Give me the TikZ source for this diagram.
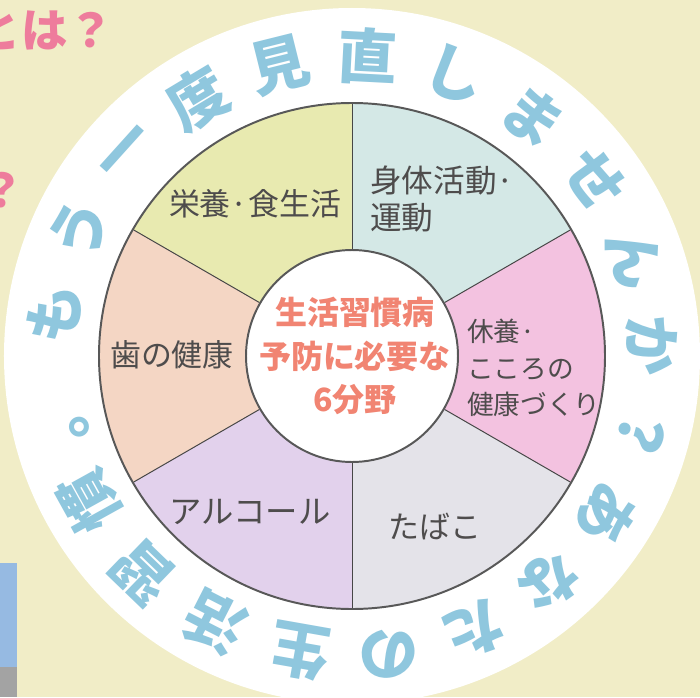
\documentclass[tikz,border=0pt]{standalone}
\usepackage{fontspec}
\setmainfont{Noto Sans CJK JP}
\usepackage{tikz}

\definecolor{paper}{RGB}{241,237,199}
\definecolor{secY}{RGB}{232,234,176}
\definecolor{secB}{RGB}{212,232,230}
\definecolor{secP}{RGB}{243,194,224}
\definecolor{secG}{RGB}{228,227,233}
\definecolor{secL}{RGB}{226,209,236}
\definecolor{secO}{RGB}{244,214,196}
\definecolor{ringblue}{RGB}{143,199,222}
\definecolor{salmon}{RGB}{241,132,114}
\definecolor{labgray}{RGB}{78,76,76}
\definecolor{rimgray}{RGB}{88,88,88}
\definecolor{pinktxt}{RGB}{238,124,156}
\definecolor{photo}{RGB}{150,186,226}

\begin{document}
\begin{tikzpicture}[x=0.05cm,y=0.05cm,
    rim/.style={draw=rimgray,line width=2.8pt},
    divider/.style={draw=rimgray!80!black,line width=1.4pt},
    lab/.style={text=labgray,inner sep=0pt,font=\fontsize{44pt}{51.5pt}\selectfont},
    ringtxt/.style={text=ringblue,inner sep=0pt,font=\fontsize{85pt}{85pt}\selectfont\bfseries},
    pinkq/.style={text=pinktxt,inner sep=0pt,font=\fontsize{66pt}{66pt}\selectfont\bfseries}]
    \clip (-352,-341) rectangle (348,356);
    \fill[paper] (-352,-341) rectangle (348,356);
    \fill[rimgray!55!white] (-352,-341) rectangle (-335,-311);
    \fill[photo] (-352,-207) rectangle (-335,-311);
    \node[pinkq,anchor=east] (toha) at (-238,326) {とは？};
    \node[pinkq] (qmark) at (-350,166) {？};
    \fill[white] (0,0) circle[radius=348];
    \foreach \a/\col in {90/secY,30/secB,-30/secP,-90/secG,-150/secL,150/secO}
        \fill[\col] (0,0) -- (\a:253) arc[start angle=\a,delta angle=60,radius=253] -- cycle;
    \draw[rim] (0,0) circle[radius=253];
    \node[circle,rim,fill=white,minimum size=10.6cm,inner sep=0pt] (hub) at (0,0) {};
    \foreach \a in {90,30,-30,-90,-150,150}
        \draw[divider] (hub.\a) -- (\a:252);
    \node[text=salmon,align=center,inner sep=0pt,
        font=\fontsize{45.5pt}{62.5pt}\selectfont\bfseries] (core) at (3,0)
        {生活習慣病\\予防に必要な\\6分野};
    \node[lab] (eiyou) at (-97,152) {栄養·食生活};
    \node[lab,font=\fontsize{45pt}{51.5pt}\selectfont,align=left,anchor=west] (shintai) at (18,157) {身体活動·\\運動};
    \node[lab,font=\fontsize{38pt}{52pt}\selectfont,align=left,anchor=west] (kyuyou) at (115,-12) {休養·\\こころの\\健康づくり};
    \node[lab] (tabako) at (83,-171) {たばこ};
    \node[lab,font=\fontsize{46pt}{52pt}\selectfont] (alcohol) at (-102,-156) {アルコール};
    \node[lab] (ha) at (-180,1) {歯の健康};
    \foreach \ch [count=\i from 0] in {も,う,一,度,見,直,し,ま,せ,ん,か,？,あ,な,た,の,生,活,習,慣} {
        \pgfmathsetmacro\ang{172-17*\i}
        \node[ringtxt,rotate=\ang-90] (r\i) at (\ang:300) {\ch};
    }
    \node[ringtxt,rotate=-259] (r20) at (-169:281) {。};
\end{tikzpicture}
\end{document}
